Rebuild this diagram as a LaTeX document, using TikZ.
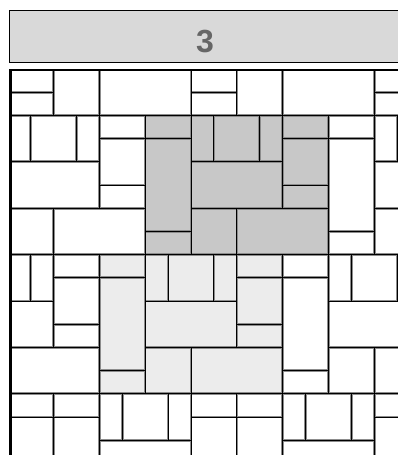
\documentclass[tikz,border=0pt]{standalone}
\usepackage{fontspec}
\setmainfont{Liberation Sans}
\definecolor{darktile}{HTML}{C8C8C8}
\definecolor{lighttile}{HTML}{ECECEC}
\definecolor{headfill}{HTML}{D9D9D9}
\definecolor{edgegray}{HTML}{8C8C8C}
\definecolor{titlegray}{HTML}{666666}
\def\tilelist{0/0/2/1, 0/1/2/5, 0/5/2/6, 2/0/3/2, 3/0/5/2, 5/0/6/2, 2/2/6/4, 6/0/8/1, 6/1/8/3, 6/3/8/4, 2/4/4/6, 4/4/8/6}
\newcommand\forblocks[1]{%
  \foreach \i in {-2,...,2}{%
    \foreach \j in {-1,...,2}{%
      \pgfmathtruncatemacro\bx{6+8*\i-2*\j}%
      \pgfmathtruncatemacro\by{2+6*\j}%
      \begin{scope}[shift={(\bx,\by)}]#1\end{scope}%
    }%
  }%
}
\tikzset{
  headbox/.style={fill=headfill, draw=black, line width=1pt},
  headtext/.style={text=titlegray, font=\bfseries\fontsize{32}{32}\selectfont, inner sep=0pt},
  edgeouter/.style={draw=edgegray, line width=2.8pt},
  edgeinner/.style={draw=black, line width=0.9pt},
  frameline/.style={draw=black, line width=2.6pt}
}
\begin{document}
\begin{tikzpicture}[x=1pt,y=-1pt]
\useasboundingbox (0,0) rectangle (398,455);
\begin{scope}
\clip (0,0) rectangle (398,455);
\draw[headbox] (9.5,10.5) rectangle (420,62.5);
\node[headtext] (title) at (205,42) {3};
\begin{scope}
\clip (10,69) rectangle (398,455);
\begin{scope}[shift={(7.3,69)}, x=22.96pt, y=-23.2pt]
  \forblocks{\fill[white] (0,0) rectangle (8,6);}
  \fill[darktile] (6,2) rectangle (14,8);
  \fill[lighttile] (4,8) rectangle (12,14);
  \forblocks{\path[edgeouter] foreach \a/\b/\c/\d in \tilelist {(\a,\b) rectangle (\c,\d)};}
  \forblocks{\path[edgeinner] foreach \a/\b/\c/\d in \tilelist {(\a,\b) rectangle (\c,\d)};}
\end{scope}
\end{scope}
\coordinate (ftl) at (9,70);
\coordinate (ftr) at (400,70);
\coordinate (fbl) at (10.6,70);
\coordinate (fbb) at (10.6,460);
\draw[frameline] (ftl) -- (ftr);
\draw[frameline, line width=3pt] (fbl) -- (fbb);
\end{scope}
\end{tikzpicture}
\end{document}
